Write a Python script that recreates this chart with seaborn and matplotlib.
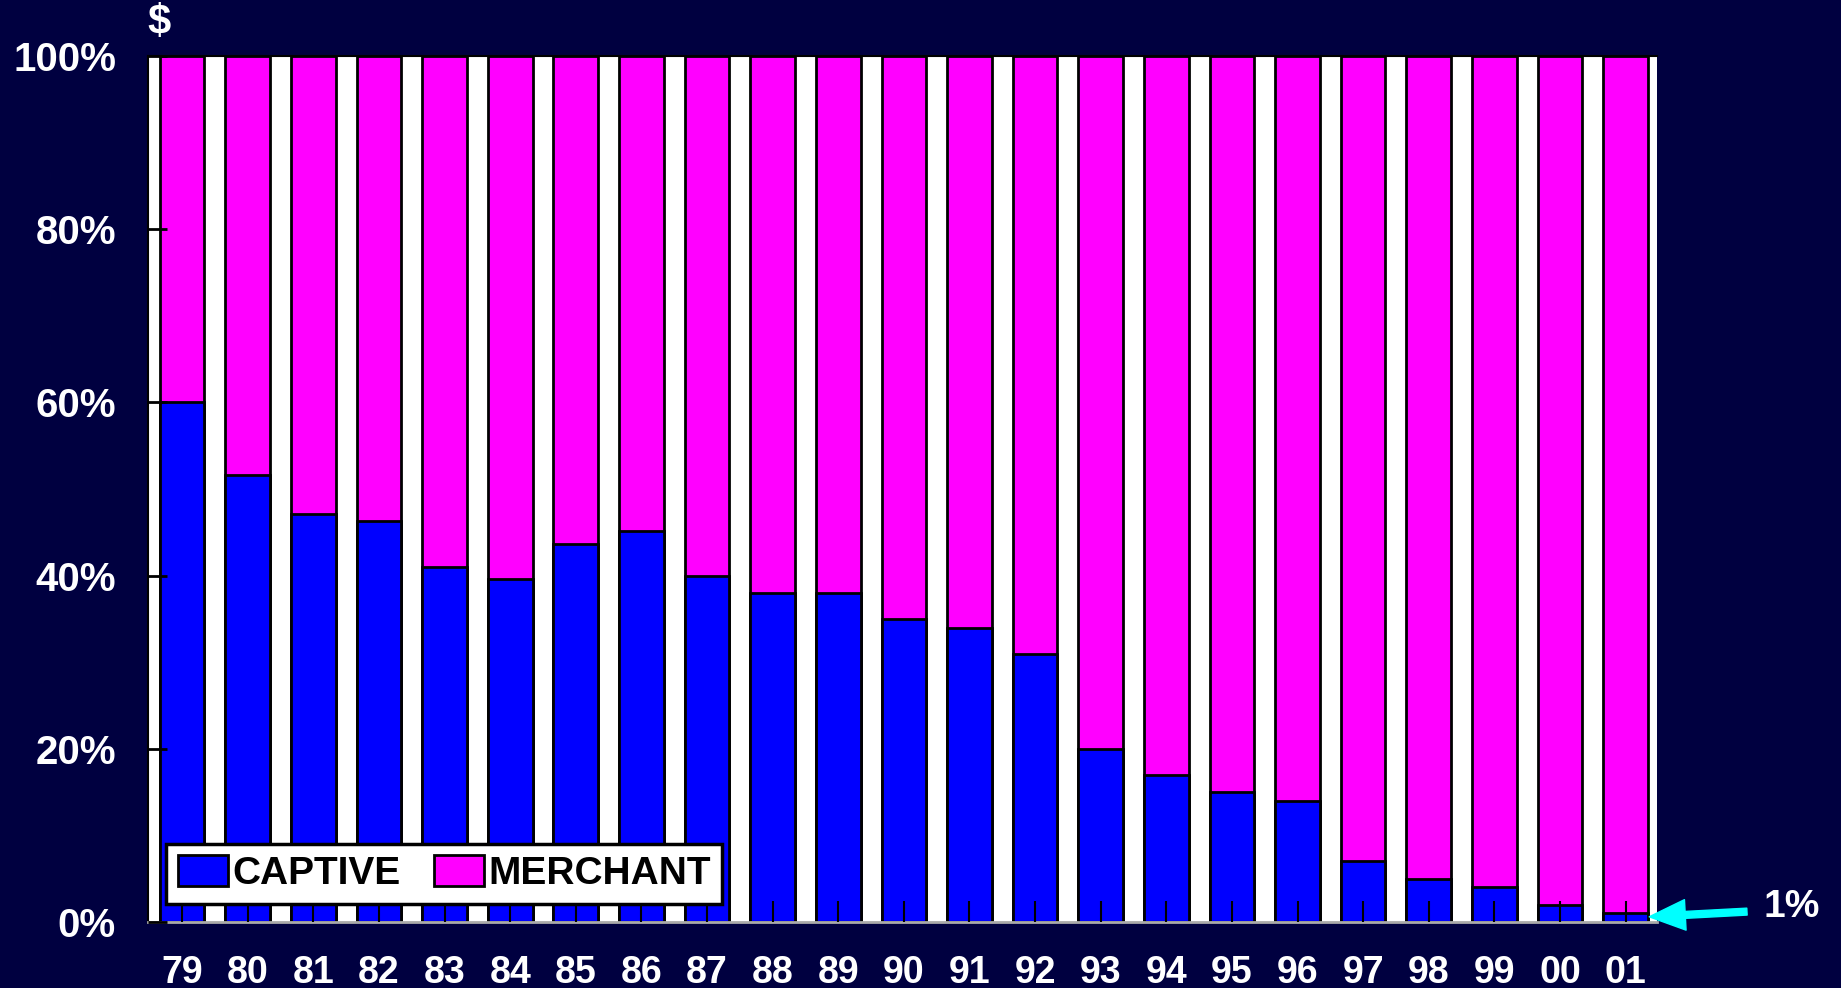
import numpy as np
import pandas as pd
import seaborn as sns
import matplotlib.pyplot as plt
from matplotlib.patches import Patch

# share of sales, percent
years = ["79", "80", "81", "82", "83", "84", "85", "86", "87", "88", "89", "90",
         "91", "92", "93", "94", "95", "96", "97", "98", "99", "00", "01"]
captive = [60, 51.6, 47.1, 46.3, 41, 39.6, 43.7, 45.1, 40, 38, 38, 35,
           34, 31, 20, 17, 15, 14, 7, 5, 4, 2, 1]
merchant = [40, 48.4, 52.9, 53.7, 59, 60.4, 56.3, 54.9, 60, 62, 62, 65,
            66, 69, 80, 83, 85, 86, 93, 95, 96, 98, 99]
yticks = [0, 20, 40, 60, 80, 100]

bg = "#000040"
blue = "#0000FF"
magenta = "#FF00FF"

df = pd.DataFrame({"year": years, "captive": captive, "merchant": merchant})
df["total"] = df["captive"] + df["merchant"]

sns.set_style("white")
plt.rcParams["font.family"] = ["Liberation Sans", "DejaVu Sans"]
plt.rcParams["font.weight"] = "bold"

fig = plt.figure(figsize=(18.41, 9.88), dpi=100, facecolor=bg)
ax = fig.add_axes([0.0804, 0.0668, 0.8197, 0.8765])
ax.set_facecolor("white")

# stacked bars: full bar in magenta, captive part drawn over it
sns.barplot(data=df, x="year", y="total", color=magenta, saturation=1,
            width=0.68, edgecolor="black", linewidth=2, ax=ax, zorder=1)
sns.barplot(data=df, x="year", y="captive", color=blue, saturation=1,
            width=0.68, edgecolor="black", linewidth=2, ax=ax, zorder=1.5)

ax.set_xlim(-0.52, 22.48)
ax.set_ylim(0, 100)
ax.set_yticks(yticks)
ax.set_yticklabels([f"{t}%" for t in yticks])
ax.set_xlabel("")
ax.set_ylabel("")

ax.tick_params(axis="y", direction="in", length=14, width=2, color="black",
               labelsize=29, labelcolor="white", pad=23, left=True)
ax.tick_params(axis="x", direction="in", length=15, width=1.5, color="black",
               labelsize=27, labelcolor="white", pad=24, bottom=True)
for lab in ax.get_xticklabels() + ax.get_yticklabels():
    lab.set_fontweight("bold")
ax.set_axisbelow(False)

for side in ["top", "left"]:
    ax.spines[side].set_color("black")
    ax.spines[side].set_linewidth(1.5)
ax.spines["bottom"].set_color("#aaaaaa")
ax.spines["bottom"].set_linewidth(2)
ax.spines["right"].set_visible(False)

handles = [Patch(facecolor=blue, edgecolor="black", linewidth=2, label="CAPTIVE"),
           Patch(facecolor=magenta, edgecolor="black", linewidth=2, label="MERCHANT")]
leg = ax.legend(handles=handles, loc="lower left", bbox_to_anchor=(0.012, 0.021),
                borderaxespad=0, ncol=2, fancybox=False, framealpha=1,
                edgecolor="black", handlelength=1.3, handleheight=0.85,
                handletextpad=0.1, columnspacing=0.85, borderpad=0.3,
                labelcolor="black", prop={"size": 28, "weight": "bold"})
leg.get_frame().set_linewidth(2.5)
leg.set_zorder(10)

# "$" unit label and 1% callout
fig.text(0.0865, 0.977, "$", color="white", fontsize=30, fontweight="bold",
         ha="center", va="center")
ax.annotate("", xy=(22.36, 0.6), xytext=(23.85, 1.2),
            arrowprops=dict(color="#00FFFF", width=5, headwidth=22, headlength=26),
            annotation_clip=False)
ax.text(24.1, 1.7, "1%", color="white", fontsize=28, fontweight="bold",
        ha="left", va="center", clip_on=False)

fig.savefig("out.png", dpi=100, facecolor=bg)
